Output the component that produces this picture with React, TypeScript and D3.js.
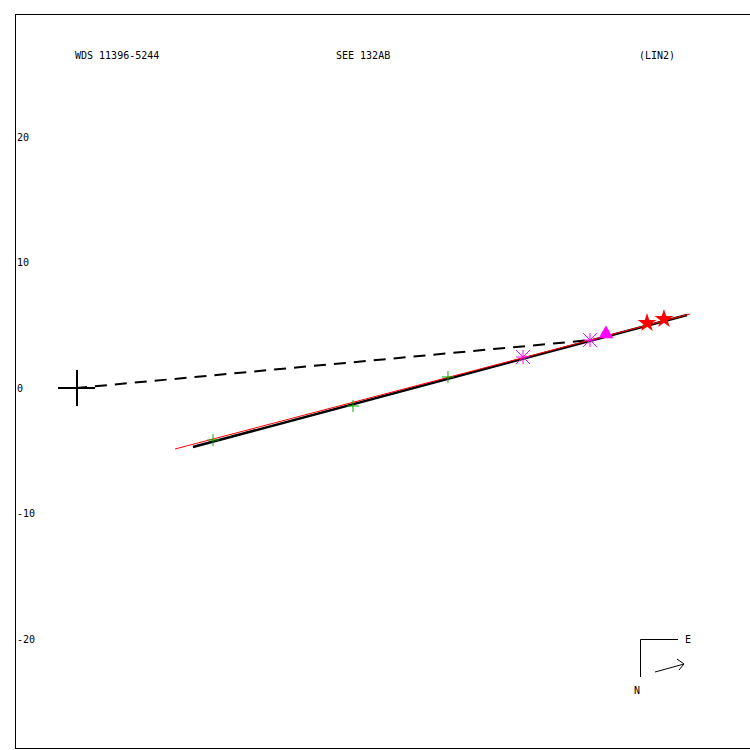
import { useEffect, useRef } from "react";
import * as d3 from "d3";

const greenPoints: [number, number][] = [
  [10.84, -4.14],
  [21.99, -1.43],
  [29.56, 0.88],
];
const asteriskPoints: [number, number][] = [
  [35.54, 2.47],
  [40.88, 3.82],
];
const trianglePoints: [number, number][] = [[42.15, 4.3]];
const starPoints: [number, number][] = [
  [45.42, 5.18],
  [46.77, 5.5],
];
const fitLine: [number, number][] = [
  [9.24, -4.7],
  [48.61, 5.82],
];
const redLine: [number, number][] = [
  [7.81, -4.86],
  [48.84, 5.9],
];
const dashedLine: [number, number][] = [
  [0, 0],
  [40.88, 3.82],
];
const yTicks = [20, 10, 0, -10, -20];
const titles = ["WDS 11396-5244", "SEE 132AB", "(LIN2)"];

export default function App() {
  const svgRef = useRef<SVGSVGElement>(null);

  useEffect(() => {
    const width = 750;
    const height = 750;
    const font = "'DejaVu Sans Mono', monospace";

    const svg = d3.select(svgRef.current).attr("width", width).attr("height", height);
    svg.selectAll("*").remove();

    const x = d3.scaleLinear().domain([0, 10]).range([77, 202.5]);
    const y = d3.scaleLinear().domain([0, 10]).range([388, 262.5]);

    // frame
    svg
      .append("rect")
      .attr("x", 15.5)
      .attr("y", 14.5)
      .attr("width", 740)
      .attr("height", 734)
      .attr("fill", "none")
      .attr("stroke", "#000")
      .attr("stroke-width", 1);

    // titles
    const titleX = [75, 336, 639];
    svg
      .selectAll("text.title")
      .data(titles)
      .join("text")
      .attr("class", "title")
      .attr("x", (_, i) => titleX[i])
      .attr("y", 55)
      .attr("dy", "0.35em")
      .attr("font-family", font)
      .attr("font-size", 10)
      .text((d) => d);

    // y tick labels
    svg
      .selectAll("text.ytick")
      .data(yTicks)
      .join("text")
      .attr("class", "ytick")
      .attr("x", 17)
      .attr("y", (d) => y(d))
      .attr("dy", "0.35em")
      .attr("font-family", font)
      .attr("font-size", 10)
      .text((d) => String(d));

    const line = d3
      .line<[number, number]>()
      .x((d) => x(d[0]))
      .y((d) => y(d[1]));

    // origin cross (primary)
    const ox = x(0);
    const oy = y(0);
    svg
      .append("path")
      .attr("d", `M${ox - 19},${oy}H${ox + 18}M${ox},${oy - 18}V${oy + 18}`)
      .attr("stroke", "#000")
      .attr("stroke-width", 2)
      .attr("fill", "none");

    svg
      .append("path")
      .attr("d", line(dashedLine))
      .attr("stroke", "#000")
      .attr("stroke-width", 2)
      .attr("stroke-dasharray", "12,8")
      .attr("stroke-dashoffset", -18)
      .attr("fill", "none");

    svg
      .append("path")
      .attr("d", line(fitLine))
      .attr("stroke", "#000")
      .attr("stroke-width", 2.5)
      .attr("fill", "none");

    svg
      .append("path")
      .attr("d", line(redLine))
      .attr("stroke", "#ff0000")
      .attr("stroke-width", 1)
      .attr("fill", "none");

    // green plus markers
    svg
      .selectAll("path.plus")
      .data(greenPoints)
      .join("path")
      .attr("class", "plus")
      .attr("d", (d) => {
        const px = x(d[0]);
        const py = y(d[1]);
        return `M${px - 6},${py}H${px + 6}M${px},${py - 6}V${py + 6}`;
      })
      .attr("stroke", "#00b000")
      .attr("stroke-width", 1);

    // magenta asterisks
    svg
      .selectAll("path.ast")
      .data(asteriskPoints)
      .join("path")
      .attr("class", "ast")
      .attr("d", (d) => {
        const px = x(d[0]);
        const py = y(d[1]);
        const r = 7;
        return `M${px - r},${py}H${px + r}M${px},${py - r}V${py + r}` +
          `M${px - r},${py - r}L${px + r},${py + r}M${px - r},${py + r}L${px + r},${py - r}`;
      })
      .attr("stroke", "#ff00ff")
      .attr("stroke-width", 1);

    // magenta triangle
    svg
      .selectAll("path.tri")
      .data(trianglePoints)
      .join("path")
      .attr("class", "tri")
      .attr("transform", (d) => `translate(${x(d[0])},${y(d[1])})`)
      .attr("d", d3.symbol(d3.symbolTriangle, 95)())
      .attr("fill", "#ff00ff");

    // red stars
    svg
      .selectAll("path.star")
      .data(starPoints)
      .join("path")
      .attr("class", "star")
      .attr("transform", (d) => `translate(${x(d[0])},${y(d[1])})`)
      .attr("d", d3.symbol(d3.symbolStar, 110)())
      .attr("fill", "#ff0000");

    // compass
    const g = svg.append("g").attr("stroke", "#000").attr("fill", "none");
    g.append("path").attr("d", "M640.5,677V639.5H678").attr("stroke-width", 1);
    g.append("path").attr("d", "M655,672L684,664").attr("stroke-width", 1);
    g.append("path").attr("d", "M677,659L684,664L679,670").attr("stroke-width", 1);
    svg
      .append("text")
      .attr("x", 685)
      .attr("y", 639)
      .attr("dy", "0.35em")
      .attr("font-family", font)
      .attr("font-size", 10)
      .text("E");
    svg
      .append("text")
      .attr("x", 634)
      .attr("y", 690)
      .attr("dy", "0.35em")
      .attr("font-family", font)
      .attr("font-size", 10)
      .text("N");
  }, []);

  return (
    <div style={{ position: "absolute", left: 0, top: 0 }}>
      <svg ref={svgRef} style={{ display: "block", background: "#fff" }}></svg>
    </div>
  );
}
